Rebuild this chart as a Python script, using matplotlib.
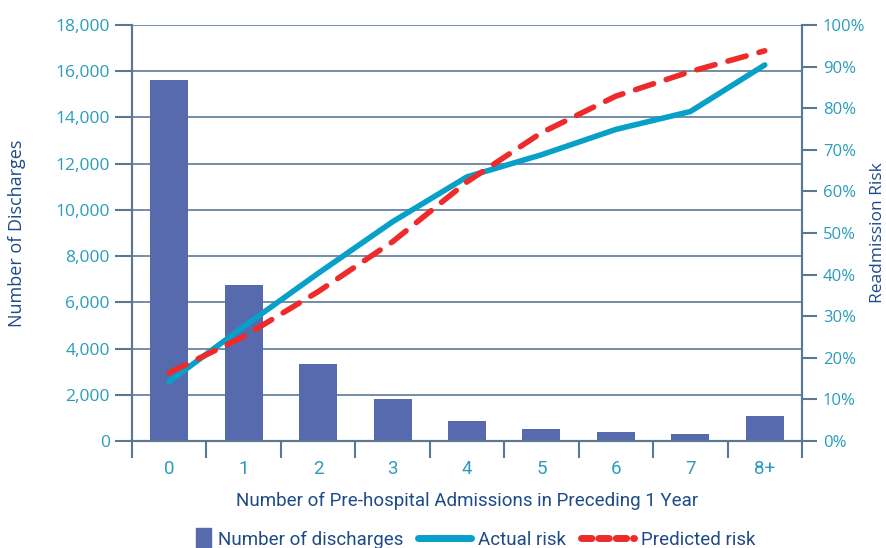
import matplotlib
matplotlib.use("Agg")
import matplotlib.pyplot as plt
from matplotlib.ticker import FuncFormatter, FixedLocator
from matplotlib.lines import Line2D
from matplotlib.patches import Patch, Rectangle
from matplotlib.legend_handler import HandlerPatch

categories = ["0", "1", "2", "3", "4", "5", "6", "7", "8+"]
discharges = [15600, 6750, 3350, 1800, 850, 500, 380, 320, 1100]
actual_risk = [14.3, 27.5, 40.3, 52.7, 63.5, 68.8, 74.9, 79.2, 90.4]
predicted_risk = [16.4, 25.1, 35.9, 47.9, 62.3, 74.1, 82.9, 88.8, 93.8]

BAR_C = "#566aad"
ACT_C = "#07a0c9"
PRED_C = "#ee2a2a"
TICK_C = "#2b9cbb"
LABEL_C = "#1f4a8a"
AXIS_C = "#5a7892"

cond = ["Roboto", "DejaVu Sans"]
plt.rcParams['font.family'] = ["Open Sans", "DejaVu Sans"]

fig = plt.figure(figsize=(8.87, 5.48), dpi=100)
ax = fig.add_axes([132/887, 1-441/548, (802-132)/887, (441-25)/548])
ax2 = ax.twinx()

x = list(range(len(categories)))
ax.bar(x, discharges, width=0.51, color=BAR_C, zorder=3)
ax.set_xlim(-0.5, len(categories)-0.5)
ax.set_ylim(0, 18000)
ax.set_yticks(range(0, 18001, 2000))
ax.yaxis.set_major_formatter(FuncFormatter(lambda v, p: f"{int(v):,}"))
ax.grid(axis='y', color="#5d7a94", linewidth=1.2, zorder=0)
ax.set_axisbelow(True)

ax.xaxis.set_major_locator(FixedLocator([i - 0.5 for i in range(len(categories)+1)]))
ax.xaxis.set_minor_locator(FixedLocator(x))
ax.set_xticklabels([], minor=False)
ax.set_xticklabels(categories, minor=True, family=cond, fontsize=13.5, color=TICK_C)
ax.tick_params(axis='x', which='major', length=12, width=1.5, color=AXIS_C, direction='out')
ax.tick_params(axis='x', which='minor', length=0, pad=14)
ax.tick_params(axis='y', length=12, width=1.5, color=AXIS_C, labelcolor=TICK_C, labelsize=12.5, pad=4)

ax2.plot(x, actual_risk, color=ACT_C, linewidth=4, solid_capstyle='round', solid_joinstyle='round', zorder=4)
ax2.plot(x, predicted_risk, color=PRED_C, linewidth=4, dashes=(3.4, 2.4), dash_capstyle='round', zorder=5)
ax2.set_ylim(0, 100)
ax2.set_yticks(range(0, 101, 10))
ax2.yaxis.set_major_formatter(FuncFormatter(lambda v, p: f"{int(v)}%"))
ax2.tick_params(axis='y', length=11, width=1.5, color=AXIS_C, labelcolor=TICK_C, labelsize=12, pad=4)

for a in (ax, ax2):
    a.spines['top'].set_visible(False)
    for s in ('left', 'right', 'bottom'):
        a.spines[s].set_color(AXIS_C)
        a.spines[s].set_linewidth(1.5)

ax.set_ylabel("Number of Discharges", color=LABEL_C, fontsize=13)
ax.yaxis.set_label_coords((26-132)/670, 0.5)
ax2.set_ylabel("Readmission Risk", color=LABEL_C, fontsize=12.5)
ax2.yaxis.set_label_coords((870-132)/670, 0.5)
ax.set_xlabel("Number of Pre-hospital Admissions in Preceding 1 Year", color=LABEL_C,
              fontsize=13.5, family=cond, labelpad=10)


def narrow_patch(legend, orig_handle, xdescent, ydescent, width, height, fontsize):
    w = 0.27 * width
    h = height * 1.35
    return Rectangle((-xdescent + width - w, -ydescent - (h - height) / 2), w, h)


handles = [Patch(color=BAR_C),
           Line2D([0], [0], color=ACT_C, linewidth=5, solid_capstyle='round'),
           Line2D([0], [0], color=PRED_C, linewidth=5, dashes=(1.5, 1.0), dash_capstyle='round')]
labels = ["Number of discharges", "Actual risk", "Predicted risk"]
fig.legend(handles, labels, loc='center', bbox_to_anchor=(457/887, 1-540/548), ncol=3,
           frameon=False, prop={'family': cond, 'size': 13.5}, labelcolor=LABEL_C,
           handlelength=2.8, handleheight=1.0, columnspacing=0.8, handletextpad=0.4,
           handler_map={Patch: HandlerPatch(patch_func=narrow_patch)})

fig.savefig("out.png", dpi=100)
